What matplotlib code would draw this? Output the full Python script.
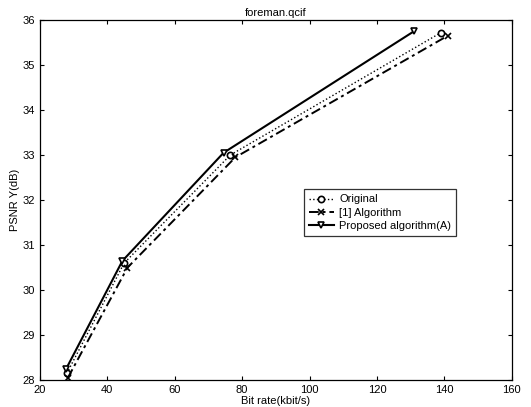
import matplotlib.pyplot as plt

plt.rcParams['font.family'] = ['Liberation Sans', 'DejaVu Sans']

# rate-distortion points, foreman.qcif
rate_orig = [28.0, 45.0, 76.5, 139.0]
psnr_orig = [28.15, 30.6, 33.0, 35.72]

rate_ref1 = [28.3, 46.0, 78.0, 141.0]
psnr_ref1 = [28.05, 30.5, 32.95, 35.65]

rate_prop = [27.8, 44.5, 74.5, 131.0]
psnr_prop = [28.25, 30.65, 33.05, 35.75]

x_ticks = [20, 40, 60, 80, 100, 120, 140, 160]
y_ticks = [28, 29, 30, 31, 32, 33, 34, 35, 36]


def main() -> None:
    fig = plt.figure(figsize=(5.31, 4.07), dpi=100)
    ax = fig.add_axes([0.075, 0.066, 0.889, 0.885])

    ax.plot(rate_orig, psnr_orig, color='black', linestyle=':', linewidth=1.0,
            marker='o', markersize=4.5, markerfacecolor='white',
            markeredgewidth=1.2, label='Original')
    ax.plot(rate_ref1, psnr_ref1, color='black', linestyle=(0, (5, 2, 1.5, 2)),
            linewidth=1.4, marker='x', markersize=4.5, markeredgewidth=1.2,
            label='[1] Algorithm')
    ax.plot(rate_prop, psnr_prop, color='black', linestyle='-', linewidth=1.5,
            marker='v', markersize=5, markerfacecolor='white',
            markeredgewidth=1.2, label='Proposed algorithm(A)')

    ax.set_xlim(20, 160)
    ax.set_ylim(28, 36)
    ax.set_xticks(x_ticks)
    ax.set_yticks(y_ticks)
    ax.tick_params(direction='in', top=True, right=True, labelsize=8,
                   length=3, width=0.8)
    for spine in ax.spines.values():
        spine.set_linewidth(0.9)

    ax.set_title('foreman.qcif', fontsize=8, pad=3)
    ax.set_xlabel('Bit rate(kbit/s)', fontsize=8, labelpad=1)
    ax.set_ylabel('PSNR Y(dB)', fontsize=8, labelpad=2)

    leg = ax.legend(loc='lower left', bbox_to_anchor=(0.56, 0.40), fontsize=8,
                    frameon=True, fancybox=False, edgecolor='black',
                    borderpad=0.45, labelspacing=0.3, handlelength=2.2,
                    handletextpad=0.5, borderaxespad=0)
    leg.get_frame().set_linewidth(0.9)

    fig.savefig('out.png', dpi=100)
    plt.close(fig)


if __name__ == '__main__':
    main()
